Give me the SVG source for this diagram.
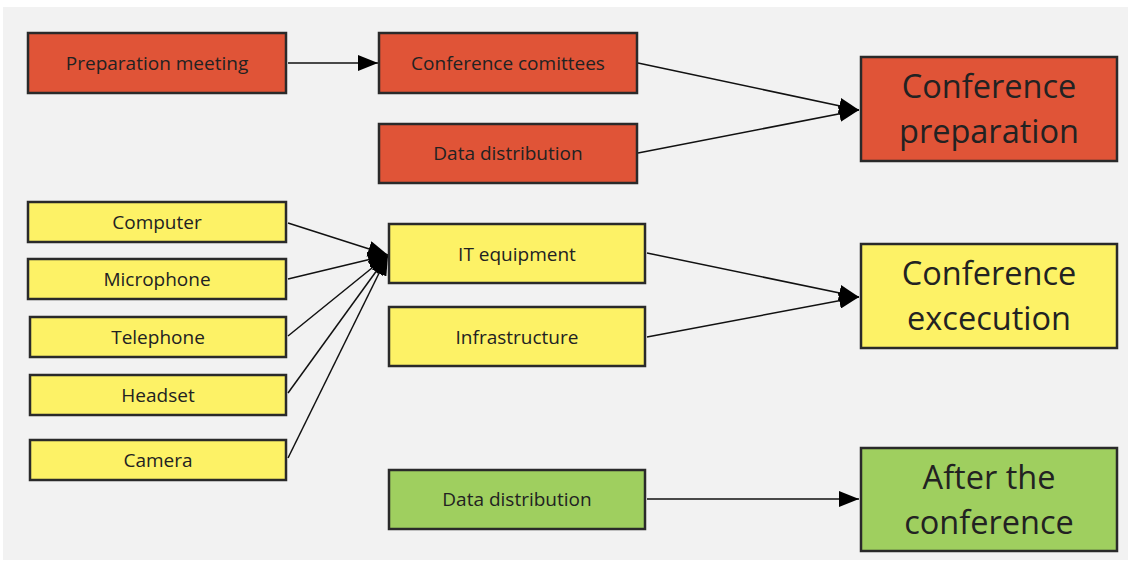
<svg xmlns="http://www.w3.org/2000/svg" width="1132" height="563" viewBox="0 0 1132 563">
<defs>
<marker id="ah" markerUnits="userSpaceOnUse" markerWidth="22" markerHeight="16" refX="20" refY="8" orient="auto">
<path d="M0,0 L20,8 L0,16 Z" fill="#000"/>
</marker>
<style>
.box{stroke:#2a2a2a;stroke-width:2.5}
.red{fill:#e05437}
.yel{fill:#fdf266}
.grn{fill:#9fcf5f}
.t{font-family:"Open Sans","Noto Sans",sans-serif;font-size:19px;fill:#222;text-anchor:middle}
.big{font-family:"Open Sans","Noto Sans",sans-serif;font-size:32.5px;fill:#222;text-anchor:middle}
.c{stroke:#111;stroke-width:1.5;fill:none;marker-end:url(#ah)}
</style>
</defs>
<rect x="0" y="0" width="1132" height="563" fill="#ffffff"/>
<rect x="3" y="7" width="1125" height="553" fill="#f2f2f2"/>

<g id="connectors">
<line class="c" x1="288" y1="63" x2="378" y2="63"/>
<line class="c" x1="638" y1="63" x2="859" y2="110"/>
<line class="c" x1="638" y1="153" x2="859" y2="110"/>
<line class="c" x1="288" y1="223" x2="388" y2="255"/>
<line class="c" x1="288" y1="279" x2="388" y2="255"/>
<line class="c" x1="288" y1="336" x2="388" y2="255"/>
<line class="c" x1="288" y1="393" x2="388" y2="255"/>
<line class="c" x1="288" y1="458" x2="388" y2="255"/>
<line class="c" x1="647" y1="253" x2="859" y2="297"/>
<line class="c" x1="647" y1="337" x2="859" y2="297"/>
<line class="c" x1="647" y1="499" x2="859" y2="499"/>
</g>

<g id="prep-meeting"><rect class="box red" x="28" y="33" width="258" height="60"/><text class="t" x="157" y="70">Preparation meeting</text></g>
<g id="conf-committees"><rect class="box red" x="379" y="33" width="258" height="60"/><text class="t" x="508" y="70">Conference comittees</text></g>
<g id="data-dist-1"><rect class="box red" x="379" y="124" width="258" height="59"/><text class="t" x="508" y="160">Data distribution</text></g>
<g id="conf-preparation"><rect class="box red" x="861" y="57" width="256" height="104"/><text class="big" x="989" y="98">Conference</text><text class="big" x="989" y="143">preparation</text></g>

<g id="computer"><rect class="box yel" x="28" y="202" width="258" height="40"/><text class="t" x="157" y="229">Computer</text></g>
<g id="microphone"><rect class="box yel" x="28" y="259" width="258" height="40"/><text class="t" x="157" y="286">Microphone</text></g>
<g id="telephone"><rect class="box yel" x="30" y="317" width="256" height="40"/><text class="t" x="158" y="344">Telephone</text></g>
<g id="headset"><rect class="box yel" x="30" y="375" width="256" height="40"/><text class="t" x="158" y="402">Headset</text></g>
<g id="camera"><rect class="box yel" x="30" y="440" width="256" height="40"/><text class="t" x="158" y="467">Camera</text></g>

<g id="it-equipment"><rect class="box yel" x="389" y="224" width="256" height="59"/><text class="t" x="517" y="261">IT equipment</text></g>
<g id="infrastructure"><rect class="box yel" x="389" y="307" width="256" height="59"/><text class="t" x="517" y="344">Infrastructure</text></g>
<g id="conf-execution"><rect class="box yel" x="861" y="244" width="256" height="104"/><text class="big" x="989" y="285">Conference</text><text class="big" x="989" y="330">excecution</text></g>

<g id="data-dist-2"><rect class="box grn" x="389" y="470" width="256" height="59"/><text class="t" x="517" y="506">Data distribution</text></g>
<g id="after-conf"><rect class="box grn" x="861" y="448" width="256" height="103"/><text class="big" x="989" y="489">After the</text><text class="big" x="989" y="534">conference</text></g>
</svg>
